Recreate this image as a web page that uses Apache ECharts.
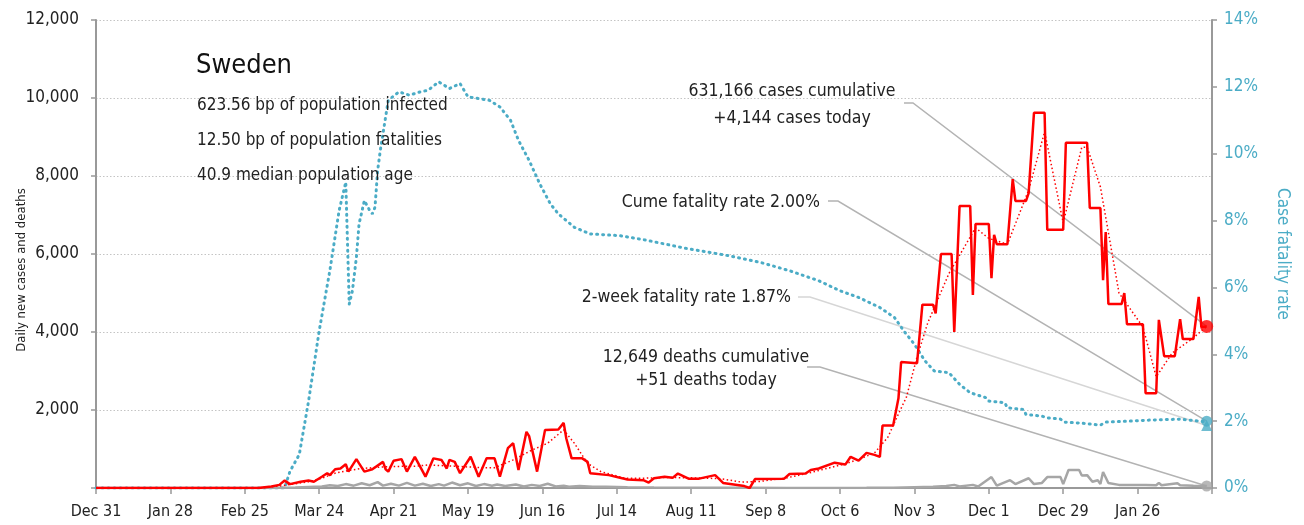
<!DOCTYPE html>
<html>
<head>
<meta charset="utf-8">
<script src="https://cdn.jsdelivr.net/npm/echarts@6/dist/echarts.min.js"></script>
<style>html,body{margin:0;padding:0;background:#fff}#main{width:1304px;height:525px}</style>
</head>
<body>
<div id="main"></div>
<script>
// days counted from Dec 31 2019
var START = Date.UTC(2019, 11, 31);
var MONTHS = ['Jan','Feb','Mar','Apr','May','Jun','Jul','Aug','Sep','Oct','Nov','Dec'];
var lastDay = 418;

// daily new cases [day, cases]
var casesPts = [[0,0],[55,0],[61,0],[66,40],[69,80],[71,190],[73,100],[77,160],[80,190],[82,160],[85,290],[87,380],[88,330],[90,480],[92,500],[94,610],[95,420],[98,740],[99,630],[101,420],[104,480],[108,670],[109,480],[110,420],[112,700],[115,740],[117,420],[120,800],[123,420],[124,290],[127,760],[130,720],[132,500],[133,720],[135,670],[137,380],[141,800],[144,290],[147,760],[150,760],[152,290],[155,1020],[157,1150],[159,460],[162,1440],[163,1330],[166,420],[169,1490],[174,1500],[176,1670],[177,1270],[179,760],[183,760],[185,670],[186,380],[193,330],[200,220],[206,200],[208,140],[210,250],[214,290],[217,260],[219,370],[223,240],[227,240],[233,330],[236,130],[244,50],[246,0],[248,230],[259,240],[261,360],[267,370],[269,460],[272,500],[278,650],[282,600],[284,800],[287,700],[290,900],[293,850],[295,800],[296,1600],[300,1600],[302,2300],[303,3230],[309,3200],[311,4700],[315,4700],[316,4480],[318,6000],[322,6000],[323,4000],[325,7230],[329,7230],[330,4950],[331,6770],[336,6770],[337,5380],[338,6490],[339,6250],[343,6250],[345,7920],[346,7360],[350,7360],[351,7560],[353,9620],[357,9620],[358,6620],[364,6620],[365,8850],[373,8850],[374,7180],[378,7180],[379,5330],[380,6560],[381,4720],[386,4720],[387,5000],[388,4200],[394,4200],[395,2430],[399,2430],[400,4310],[402,3380],[406,3380],[408,4330],[409,3820],[413,3820],[415,4900],[416,4130],[418,4144]];

// 7-day average of cases
var avgPts = [[0,0],[62,0],[70,60],[75,110],[80,160],[85,250],[90,380],[95,450],[100,500],[110,550],[120,560],[125,590],[135,560],[145,520],[150,520],[157,720],[164,970],[170,1150],[176,1490],[180,1150],[185,630],[190,420],[199,250],[205,250],[215,270],[225,260],[235,240],[243,150],[250,170],[260,260],[268,380],[275,500],[282,620],[288,760],[293,900],[298,1300],[302,1900],[305,2330],[309,3360],[313,4230],[321,5500],[331,6670],[336,6400],[343,6250],[351,7640],[357,9130],[364,6800],[371,8740],[373,8740],[378,7720],[385,5000],[394,4130],[399,2850],[405,3460],[413,3850],[418,4144]];

// daily deaths
var deathPts = [[0,0],[66,0],[70,5],[75,10],[80,25],[85,40],[88,70],[91,50],[94,100],[97,60],[100,120],[103,70],[106,150],[108,60],[111,110],[114,60],[117,130],[120,60],[123,110],[126,50],[129,100],[131,60],[134,140],[137,70],[140,120],[143,50],[146,100],[149,60],[151,90],[154,50],[158,90],[161,40],[164,80],[167,50],[170,110],[173,40],[176,60],[178,30],[182,50],[187,30],[192,35],[200,20],[210,12],[220,8],[230,6],[245,4],[260,3],[275,3],[290,5],[300,8],[308,20],[315,30],[320,50],[323,80],[325,40],[330,80],[332,40],[337,280],[339,60],[344,200],[346,100],[351,250],[353,100],[356,130],[358,280],[363,280],[364,100],[366,460],[370,460],[371,320],[373,330],[375,160],[377,200],[378,100],[379,410],[381,130],[385,80],[390,75],[395,80],[399,70],[400,130],[401,70],[407,120],[408,70],[413,60],[418,51]];

// cumulative case fatality rate, %
var cfrPts = [[0,0],[71,0],[73,0.5],[76.5,1.0],[80,2.6],[84,4.7],[88,6.5],[91.5,8.3],[94,9.15],[95.3,5.5],[96.5,5.9],[98,6.9],[99,7.9],[101,8.6],[103,8.3],[104,8.2],[105,8.4],[106,9.5],[107,10.1],[110,11.6],[114,11.85],[118,11.75],[122,11.85],[125,11.9],[129,12.15],[133,11.95],[137,12.1],[140,11.7],[148,11.6],[152,11.4],[156,11.0],[159,10.4],[163,9.8],[167,9.1],[171,8.5],[174,8.2],[180,7.8],[186,7.6],[197,7.55],[208,7.4],[220,7.2],[227,7.1],[238,6.95],[250,6.75],[261,6.5],[272,6.2],[280,5.9],[287,5.7],[295,5.4],[300.5,5.1],[304,4.7],[308,4.3],[312,3.8],[315.5,3.5],[321,3.45],[325,3.1],[329,2.85],[335,2.7],[336,2.6],[342,2.55],[343,2.4],[349,2.35],[350,2.2],[356,2.15],[358,2.1],[363,2.06],[364.5,1.97],[371,1.94],[378,1.88],[380,1.97],[389,2.0],[396,2.03],[408,2.06],[416.5,1.99],[418,2.0]];

var casesToday = 4144, deathsToday = 51, cfrCume = 2.00, cfr2wk = 1.87;

var F = "'Liberation Sans Narrow', 'DejaVu Sans Condensed', sans-serif";
var TEAL = '#4bacc6';

function dayLabel(v) {
    if (v % 28 !== 0 || v > 400) return '';
    var d = new Date(START + v * 86400000);
    return MONTHS[d.getUTCMonth()] + ' ' + d.getUTCDate();
}

var chart = echarts.init(document.getElementById('main'));
var option = {
    animation: false,
    grid: { left: 96, right: 92, top: 20, bottom: 37, outerBoundsMode: 'none' },
    xAxis: {
        type: 'value', min: 0, max: 420, interval: 28,
        axisLine: { lineStyle: { color: '#999', width: 2 } },
        axisTick: { length: 6, lineStyle: { color: '#999', width: 1.5 } },
        axisLabel: { formatter: dayLabel, color: '#222', fontSize: 16, fontFamily: F, margin: 16 },
        splitLine: { show: false }
    },
    yAxis: [{
        type: 'value', min: 0, max: 12000, interval: 2000,
        axisLine: { show: true, lineStyle: { color: '#999', width: 2 } },
        axisTick: { show: true, length: 5, lineStyle: { color: '#999', width: 1.5 } },
        axisLabel: {
            color: '#222', fontSize: 17, fontFamily: F, margin: 17,
            formatter: function (v) { return v === 0 ? '' : v.toLocaleString('en-US'); }
        },
        splitLine: { show: true, lineStyle: { color: '#c4c4c4', type: [1.5, 2], width: 1 } }
    }, {
        type: 'value', min: 0, max: 14, interval: 2, position: 'right',
        name: 'Case fatality rate', nameLocation: 'middle', nameGap: 62, nameRotate: -90,
        nameTextStyle: { color: TEAL, fontSize: 17, fontFamily: F },
        axisLine: { show: true, lineStyle: { color: '#999', width: 2 } },
        axisTick: { show: true, length: 5, lineStyle: { color: '#999', width: 1.5 } },
        axisLabel: { color: TEAL, fontSize: 17, fontFamily: F, margin: 12, formatter: '{value}%' },
        splitLine: { show: false }
    }],
    series: [
        {
            name: 'cfr', type: 'line', yAxisIndex: 1, data: cfrPts, showSymbol: false, z: 2,
            lineStyle: { color: TEAL, width: 3, type: [1, 5], cap: 'round' }
        },
        {
            name: 'deaths', type: 'line', data: deathPts, showSymbol: false, z: 3,
            lineStyle: { color: '#a6a6a6', width: 2.5 }
        },
        {
            name: 'avg', type: 'line', data: avgPts, showSymbol: false, z: 4,
            lineStyle: { color: '#ff0000', width: 1.5, type: [1.5, 2.5] }
        },
        {
            name: 'cases', type: 'line', data: casesPts, showSymbol: false, z: 5,
            lineStyle: { color: '#ff0000', width: 2.5 }
        },
        {
            type: 'scatter', yAxisIndex: 1, z: 6, symbol: 'triangle', symbolSize: 11,
            itemStyle: { color: TEAL }, data: [[lastDay, cfr2wk]]
        },
        {
            type: 'scatter', yAxisIndex: 1, z: 6, symbol: 'circle', symbolSize: 11,
            itemStyle: { color: TEAL }, data: [[lastDay, cfrCume]]
        },
        {
            type: 'scatter', z: 6, symbol: 'circle', symbolSize: 13,
            itemStyle: { color: '#ff0000' }, data: [[lastDay, casesToday]]
        },
        {
            type: 'scatter', z: 6, symbol: 'circle', symbolSize: 11,
            itemStyle: { color: '#a6a6a6' }, data: [[lastDay, deathsToday]]
        }
    ]
};
chart.setOption(option);

// leader lines: from text anchor to the last point of each value
var pCases = chart.convertToPixel({ seriesIndex: 3 }, [lastDay, casesToday]);
var pCume = chart.convertToPixel({ seriesIndex: 0 }, [lastDay, cfrCume]);
var p2wk = chart.convertToPixel({ seriesIndex: 0 }, [lastDay, cfr2wk]);
var pDeaths = chart.convertToPixel({ seriesIndex: 1 }, [lastDay, deathsToday]);

function leader(x0, x1, y, end, color) {
    return { type: 'polyline', z: 1, shape: { points: [[x0, y], [x1, y], end] },
        style: { stroke: color, lineWidth: 1.5, fill: null } };
}
function txt(x, y, s, size, align, color) {
    return { type: 'text', z: 10, x: x, y: y,
        style: { text: s, fontSize: size, fontFamily: F, fill: color || '#222', align: align || 'left', verticalAlign: 'middle' } };
}

var yName = txt(22, 270, 'Daily new cases and deaths', 13, 'center');
yName.rotation = Math.PI / 2;

chart.setOption({
    graphic: [
        leader(904, 913, 103, pCases, '#b3b3b3'),
        leader(828, 838, 201, pCume, '#b3b3b3'),
        leader(798, 810, 297, p2wk, '#d6d6d6'),
        leader(807, 820, 367, pDeaths, '#b3b3b3'),
        yName,
        txt(196, 66, 'Sweden', 27, 'left', '#111'),
        txt(197, 106, '623.56 bp of population infected', 17),
        txt(197, 141, '12.50 bp of population fatalities', 17),
        txt(197, 176, '40.9 median population age', 17),
        txt(792, 91, '631,166 cases cumulative', 17.5, 'center'),
        txt(792, 118, '+4,144 cases today', 17.5, 'center'),
        txt(820, 202, 'Cume fatality rate 2.00%', 17.5, 'right'),
        txt(791, 297, '2-week fatality rate 1.87%', 17.5, 'right'),
        txt(706, 357, '12,649 deaths cumulative', 17.5, 'center'),
        txt(706, 380, '+51 deaths today', 17.5, 'center')
    ]
});
</script>
</body>
</html>
